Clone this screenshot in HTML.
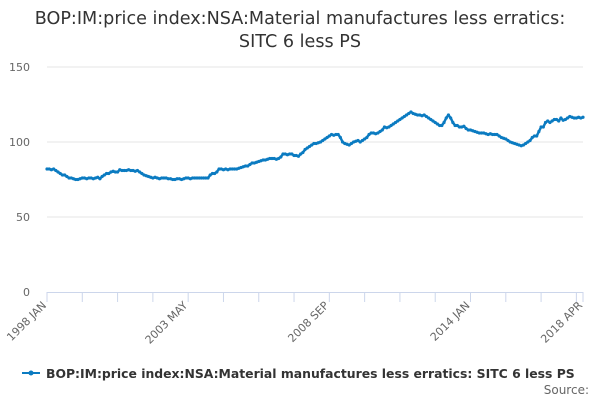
<!DOCTYPE html>
<html><head><meta charset="utf-8"><style>
body{margin:0;background:#fff;font-family:"Liberation Sans","DejaVu Sans",sans-serif;}
</style></head><body>
<svg id="chart" width="600" height="400" xmlns="http://www.w3.org/2000/svg" font-family="'DejaVu Sans','Liberation Sans',sans-serif">
<text x="300" y="24" text-anchor="middle" font-size="17.6" fill="#333">BOP:IM:price index:NSA:Material manufactures less erratics:</text>
<text x="300" y="47" text-anchor="middle" font-size="17.6" fill="#333">SITC 6 less PS</text>
<g id="grid"></g><g id="xaxis"></g><g id="series"></g>
<g>
<line x1="22" y1="373" x2="40" y2="373" stroke="#0b7bc1" stroke-width="2"/>
<circle cx="31" cy="373" r="2.5" fill="#0b7bc1"/>
<text x="46" y="378" font-size="12.4" font-weight="bold" fill="#333">BOP:IM:price index:NSA:Material manufactures less erratics: SITC 6 less PS</text>
</g>
<text x="589" y="394" text-anchor="end" font-size="12" fill="#666">Source:</text>
</svg>
<script>
const yTicks=[0,50,100,150];
const xLabels=["1998 JAN","2003 MAY","2008 SEP","2014 JAN","2018 APR"];
const xLabelIdx=[0,64,128,192,243];
const values=[
82,82,81.5,82,81,80,79,78,78,77,76,76,
75.5,75,75,75.5,76,76,75.5,76,76,75.5,76,76.5,
75.5,77,78,79,79,80,80.5,80,80,81.5,81,81,
81,81.5,81,81,80.5,81,80,79,78,77.5,77,76.5,
76,76.5,76,75.5,76,76,76,75.5,75.5,75,75,75.5,
75.5,75,75.5,76,76,75.5,76,76,76,76,76,76,
76,76,78,79,79,80,82,82,81.5,82,81.5,82,
82,82,82,82.5,83,83.5,84,84,85,86,86,86.5,
87,87.5,88,88,88.5,89,89,89,88.5,89,90,92,
92,91.5,92,92,91,91,90.5,92,93,95,96,97,
98,99,99,99.5,100,101,102,103,104,105,104.5,105,
105,103,100,99,98.5,98,99,100,100.5,101,100,101,
102,103,105,106,106,105.5,106,107,108,110,109.5,110,
111,112,113,114,115,116,117,118,119,120,119,118.5,
118,118,117.5,118,117,116,115,114,113,112,111,111,
113,116,118,116,113,111,111,110,110,110.5,109,108,
108,107.5,107,106.5,106,106,106,105.5,105,105.5,105,105,
105,104,103,102.5,102,101,100,99.5,99,98.5,98,97.5,
98,99,100,101,103,104,104,107,110,110,113,114,
113,114,115,115,114,116,114.5,115,116,117,116.5,116,
116,116.5,116,116.5];
const NS="http://www.w3.org/2000/svg";
const X0=47,X1=583,Y0=292,Y1=67;
const xs=i=>X0+(X1-X0)*i/(values.length-1);
const ys=v=>Y0-(Y0-Y1)*v/150;
function mk(t,a,p){const e=document.createElementNS(NS,t);for(const k in a)e.setAttribute(k,a[k]);p.appendChild(e);return e;}
const grid=document.getElementById('grid');
yTicks.forEach(v=>{
 if(v>0){const l=mk('line',{x1:X0,x2:X1,y1:ys(v),y2:ys(v),stroke:'#e6e6e6'},grid);
 
 }
 const t=mk('text',{x:30,y:ys(v)+4,'text-anchor':'end','font-size':11,fill:'#666'},grid);
 
 
 t.textContent=v;
});
const xa=document.getElementById('xaxis');
const ax=mk('line',{x1:X0,x2:X1,y1:Y0+0.5,y2:Y0+0.5,stroke:'#ccd6eb'},xa);


for(let i=0;i<values.length;i+=16){
 const tk=mk('line',{x1:xs(i),x2:xs(i),y1:Y0,y2:Y0+10,stroke:'#ccd6eb'},xa);
 
 
}
const lt=mk('line',{x1:xs(values.length-1),x2:xs(values.length-1),y1:Y0,y2:Y0+10,stroke:'#ccd6eb'},xa);


xLabels.forEach((s,k)=>{
 const x=xs(xLabelIdx[k]),y=Y0+14;
 const t=mk('text',{x:x,y:y,'text-anchor':'end','font-size':11,fill:'#666',transform:`rotate(-45 ${x} ${y})`},xa);
 
 
 t.textContent=s;
});
const sg=document.getElementById('series');
const p=mk('path',{d:values.map((v,i)=>(i?'L':'M')+xs(i).toFixed(1)+' '+ys(v).toFixed(1)).join(''),fill:'none',stroke:'#0b7bc1','stroke-width':2.5,'stroke-linejoin':'round'},sg);


values.forEach((v,i)=>{
 const c=mk('circle',{cx:xs(i),cy:ys(v),r:1.6,fill:'#0b7bc1'},sg);
 
 
});
</script>
</body></html>
